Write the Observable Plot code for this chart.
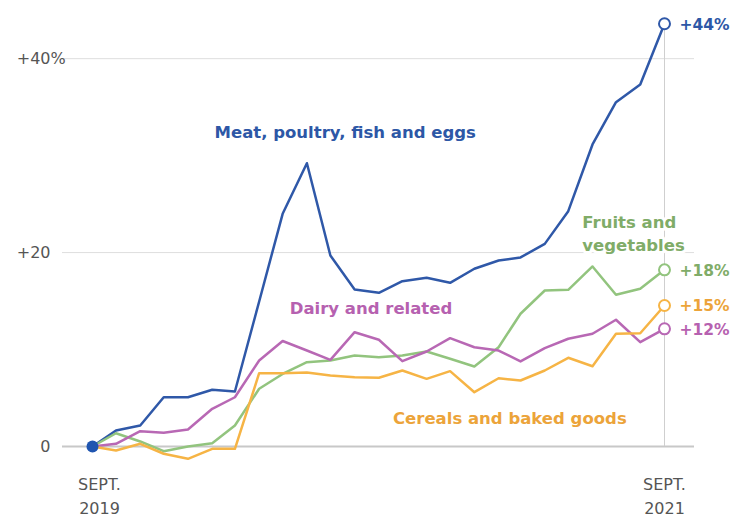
<!DOCTYPE html>
<html><head><meta charset="utf-8">
<script src="https://cdn.jsdelivr.net/npm/d3@7"></script>
<script src="https://cdn.jsdelivr.net/npm/@observablehq/plot@0.6"></script>
<style>body{margin:0;background:#fff}#chart svg{display:block}</style>
</head><body><div id="chart"></div>
<script>
const months = ["2019-09","2019-10","2019-11","2019-12","2020-01","2020-02","2020-03","2020-04","2020-05","2020-06","2020-07","2020-08","2020-09","2020-10","2020-11","2020-12","2021-01","2021-02","2021-03","2021-04","2021-05","2021-06","2021-07","2021-08","2021-09"];
const seriesNames = ["Meat, poultry, fish and eggs","Fruits and vegetables","Dairy and related","Cereals and baked goods"];
const meat = [0,1.65,2.17,5.08,5.08,5.85,5.67,14.96,24.0,29.22,19.7,16.2,15.85,17.05,17.4,16.88,18.33,19.18,19.5,20.9,24.27,31.15,35.51,37.34,43.6];
const fruitsVeg = [0,1.37,0.52,-0.48,0,0.34,2.17,5.95,7.48,8.69,8.87,9.39,9.21,9.39,9.8,9.05,8.25,10.24,13.69,16.09,16.16,18.57,15.65,16.27,18.22];
const dairy = [0,0.28,1.58,1.41,1.75,3.89,5.08,8.87,10.88,9.9,8.94,11.79,11.01,8.8,9.8,11.17,10.24,9.9,8.77,10.14,11.11,11.63,13.07,10.76,12.14];
const cereals = [0,-0.41,0.28,-0.75,-1.27,-0.24,-0.24,7.56,7.56,7.63,7.32,7.15,7.09,7.84,6.98,7.77,5.6,7.04,6.81,7.84,9.15,8.28,11.62,11.68,14.54];
const yTicks = [0,20,40];
const xTickLabels = ["SEPT.\n2019","SEPT.\n2021"];

const lineColors = ["#2f58a8","#92c47e","#b868b4","#f6b445"];
const textColors = ["#2d57a6","#80ac68","#b661b0","#eca43a"];

const values = [meat, fruitsVeg, dairy, cereals];
const parse = d3.utcParse("%Y-%m");
const dates = months.map(parse);
const data = seriesNames.flatMap((s,i)=>values[i].map((v,j)=>({series:s,date:dates[j],value:v})));
const last = dates[dates.length-1];
const ends = seriesNames.map((s,i)=>({series:s,date:last,value:values[i][values[i].length-1]}));

// series label anchors (in data space)
const labelSpecs = [
  {text:"Meat, poultry, fish and eggs", date:new Date(Date.UTC(2020,1,4)), value:32.6, i:0},
  {text:"Fruits and\nvegetables", date:new Date(Date.UTC(2021,4,19)), value:22.1, i:1},
  {text:"Dairy and related", date:new Date(Date.UTC(2020,4,10)), value:14.4, i:2},
  {text:"Cereals and baked goods", date:new Date(Date.UTC(2020,8,19)), value:3.05, i:3}
];

const marks = [
  Plot.ruleY(yTicks.filter(d=>d!==0), {stroke:"#dedede", strokeWidth:1, insetLeft:-30, insetRight:-30}),
  Plot.ruleY([0], {stroke:"#c8c8c8", strokeWidth:2, insetLeft:-30, insetRight:-30}),
  Plot.ruleX([last], {y1:0, y2:meat[meat.length-1], stroke:"#cfcfcf", strokeWidth:1}),
  Plot.line(data, {x:"date", y:"value", z:"series", stroke:"series", strokeWidth:2.5, strokeLinejoin:"round", strokeLinecap:"round"}),
];
labelSpecs.forEach(l=>{
  marks.push(Plot.text([l], {x:"date", y:"value", text:"text", textAnchor:"start", lineAnchor:"middle", lineHeight:1.42, fontSize:16.5, fontWeight:"bold", fill:textColors[l.i], stroke:"white", strokeWidth:6}));
});
marks.push(Plot.dot([{date:dates[0], value:0}], {x:"date", y:"value", r:6, fill:"#1f55b0"}));
marks.push(Plot.dot(ends, {x:"date", y:"value", r:5.5, fill:"white", stroke:"series", strokeWidth:2}));
ends.forEach((e,i)=>{
  marks.push(Plot.text([e], {x:"date", y:"value", text:d=>"+"+Math.round(d.value)+"%", textAnchor:"start", dx:15, dy:1, fontSize:15.5, fontWeight:"bold", fill:textColors[i]}));
});
marks.push(Plot.axisY({ticks:yTicks, label:null, tickSize:0, tickPadding:42, tickFormat:d=>d===0?"0":"+"+d, fontSize:16, color:"#555"}));
marks.push(Plot.text([yTicks[yTicks.length-1]], {y:d=>d, frameAnchor:"left", textAnchor:"start", dx:-42, text:()=>"%", fontSize:16, fill:"#555"}));
marks.push(Plot.text([dates[0]], {x:d=>d, frameAnchor:"bottom", lineAnchor:"top", dy:26, dx:7, lineHeight:1.5, text:()=>xTickLabels[0], fontSize:16, fill:"#555"}));
marks.push(Plot.text([last], {x:d=>d, frameAnchor:"bottom", lineAnchor:"top", dy:26, lineHeight:1.5, text:()=>xTickLabels[1], fontSize:16, fill:"#555"}));

const chart = Plot.plot({
  width:732, height:520,
  marginLeft:92, marginRight:68, marginTop:0, marginBottom:74,
  style:{fontFamily:"'DejaVu Sans', sans-serif", fontSize:"16px", background:"white"},
  x:{type:"utc", domain:[dates[0], last], axis:null},
  y:{domain:[0,46], axis:null},
  color:{domain:seriesNames, range:lineColors},
  marks
});
document.getElementById("chart").appendChild(chart);
</script>
</body></html>
